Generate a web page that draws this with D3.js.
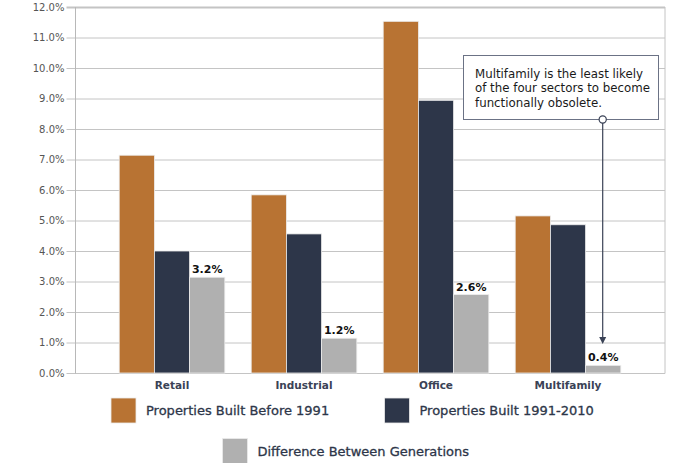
<!DOCTYPE html>
<html>
<head>
<meta charset="utf-8">
<script src="https://cdn.jsdelivr.net/npm/d3@7"></script>
<style>
  body { margin: 0; background: #fff; }
  svg { display: block; font-family: "DejaVu Sans", sans-serif; }
</style>
</head>
<body>
<div id="chart"></div>
<script>
// data
var categories = ["Retail", "Industrial", "Office", "Multifamily"];
var seriesNames = ["Properties Built Before 1991", "Properties Built 1991-2010", "Difference Between Generations"];
var before1991 = [7.14, 5.84, 11.53, 5.15];
var built1991to2010 = [4.0, 4.56, 8.94, 4.86];
var difference = [3.14, 1.14, 2.57, 0.25];
var diffLabels = ["3.2%", "1.2%", "2.6%", "0.4%"];
var yTicks = [0, 1, 2, 3, 4, 5, 6, 7, 8, 9, 10, 11, 12];
var noteLines = ["Multifamily is the least likely", "of the four sectors to become", "functionally obsolete."];

var colors = ["#b87333", "#2d3649", "#b0b0b0"];
var w = 700, h = 463;
var plotLeft = 75.5, plotRight = 665, plotTop = 7, plotBottom = 373;

var svg = d3.select("#chart").append("svg")
    .attr("width", w)
    .attr("height", h);

var y = d3.scaleLinear().domain([0, 12]).range([plotBottom, plotTop]);
var x0 = d3.scaleBand().domain(categories).range([106, 634])
    .paddingInner(0.2).paddingOuter(0.1);
var x1 = d3.scaleBand().domain(d3.range(3)).range([0, x0.bandwidth()]);

// gridlines + ticks
svg.append("g").selectAll("line")
    .data(yTicks)
    .enter()
    .append("line")
    .attr("x1", plotLeft - 9)
    .attr("x2", plotRight)
    .attr("y1", function(d) { return y(d) + 0.5; })
    .attr("y2", function(d) { return y(d) + 0.5; })
    .attr("stroke", "#c4c4c4")
    .attr("stroke-width", function(d) { return d == 12 ? 2 : 1; });

svg.append("g").selectAll("text")
    .data(yTicks)
    .enter()
    .append("text")
    .attr("x", plotLeft - 11)
    .attr("y", function(d) { return y(d) + 3.5; })
    .attr("text-anchor", "end")
    .attr("font-size", "10px")
    .attr("fill", "#555")
    .text(function(d) { return d3.format(".1f")(d) + "%"; });

// frame
svg.append("line").attr("x1", plotLeft).attr("x2", plotLeft).attr("y1", plotTop).attr("y2", plotBottom + 0.5)
    .attr("stroke", "#b8b8b8");
svg.append("line").attr("x1", plotRight).attr("x2", plotRight).attr("y1", plotTop).attr("y2", plotBottom + 0.5)
    .attr("stroke", "#c4c4c4");

// bars
var table = categories.map(function(c, i) {
    return { cat: c, vals: [before1991[i], built1991to2010[i], difference[i]] };
});

var groups = svg.append("g").selectAll("g")
    .data(table)
    .enter()
    .append("g")
    .attr("transform", function(d) { return "translate(" + x0(d.cat) + ",0)"; });

groups.selectAll("rect")
    .data(function(d) { return d.vals; })
    .enter()
    .append("rect")
    .attr("x", function(d, i) { return x1(i); })
    .attr("y", function(d) { return y(d); })
    .attr("width", x1.bandwidth())
    .attr("height", function(d) { return plotBottom - y(d); })
    .attr("fill", function(d, i) { return colors[i]; })
    .attr("stroke", "#ececec")
    .attr("stroke-width", 0.8);

// difference labels
svg.append("g").selectAll("text")
    .data(table)
    .enter()
    .append("text")
    .attr("x", function(d) { return x0(d.cat) + x1(2) + x1.bandwidth() / 2; })
    .attr("y", function(d) { return y(d.vals[2]) - 4; })
    .attr("text-anchor", "middle")
    .attr("font-size", "11px")
    .attr("font-weight", "bold")
    .attr("fill", "#111")
    .text(function(d, i) { return diffLabels[i]; });

// category labels
svg.append("g").selectAll("text")
    .data(categories)
    .enter()
    .append("text")
    .attr("x", function(d) { return x0(d) + x0.bandwidth() / 2; })
    .attr("y", plotBottom + 16)
    .attr("text-anchor", "middle")
    .attr("font-size", "10.5px")
    .attr("font-weight", "bold")
    .attr("fill", "#3a4256")
    .text(function(d) { return d; });

// annotation
var mf = "Multifamily";
var ax = x0(mf) + x1(2) + x1.bandwidth() / 2 - 0.5;
svg.append("rect")
    .attr("x", 463.5).attr("y", 55.5)
    .attr("width", 195).attr("height", 64)
    .attr("fill", "#fff")
    .attr("stroke", "#6b7285")
    .attr("stroke-width", 1);
svg.append("g").selectAll("text")
    .data(noteLines)
    .enter()
    .append("text")
    .attr("x", 475)
    .attr("y", function(d, i) { return 78 + i * 14.4; })
    .attr("font-size", "11.8px")
    .attr("fill", "#1a1a1a")
    .text(function(d) { return d; });

svg.append("line")
    .attr("x1", ax).attr("x2", ax)
    .attr("y1", 119.5).attr("y2", 338)
    .attr("stroke", "#3a4256")
    .attr("stroke-width", 1.2);
svg.append("path")
    .attr("d", "M" + (ax - 3.5) + ",337 L" + (ax + 3.5) + ",337 L" + ax + ",344 Z")
    .attr("fill", "#3a4256");
svg.append("circle")
    .attr("cx", ax).attr("cy", 119.5).attr("r", 3.6)
    .attr("fill", "#fff")
    .attr("stroke", "#3a4256")
    .attr("stroke-width", 1.2);

// legend
var legendPos = [[111, 398], [384.5, 398], [222.5, 438.5]];
var legend = svg.append("g").selectAll("g")
    .data(seriesNames)
    .enter()
    .append("g")
    .attr("transform", function(d, i) { return "translate(" + legendPos[i][0] + "," + legendPos[i][1] + ")"; });
legend.append("rect")
    .attr("width", 25).attr("height", 25)
    .attr("fill", function(d, i) { return colors[i]; })
    .attr("stroke", "#ececec")
    .attr("stroke-width", 0.8);
legend.append("text")
    .attr("x", 35)
    .attr("y", 17)
    .attr("font-size", "13px")
    .attr("fill", "#2d3649")
    .attr("stroke", "#2d3649")
    .attr("stroke-width", 0.3)
    .text(function(d) { return d; });
</script>
</body>
</html>
